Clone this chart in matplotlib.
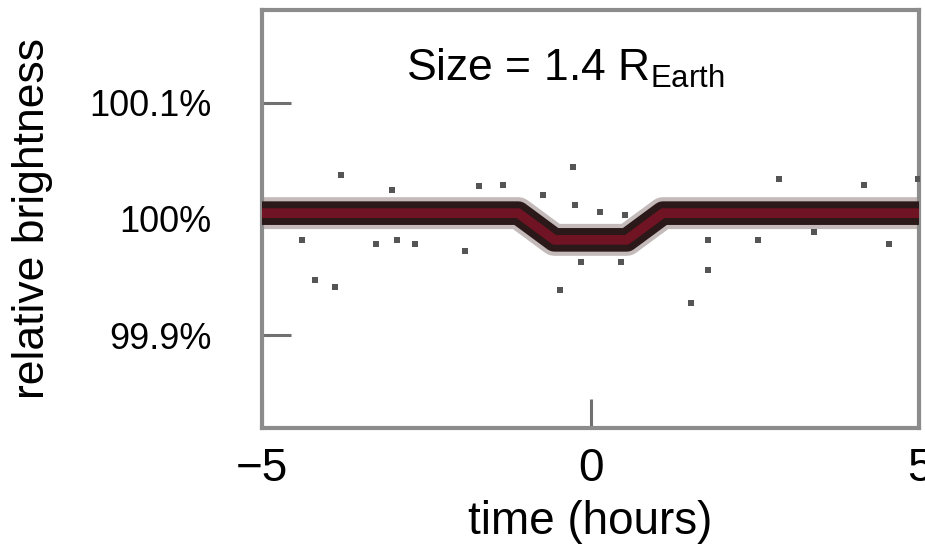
# transit light curve of a 1.4 Earth-radius planet

import matplotlib.pyplot as plt

plt.rcParams['font.family'] = ['Liberation Sans', 'DejaVu Sans']
plt.rcParams['mathtext.fontset'] = 'custom'
plt.rcParams['mathtext.rm'] = 'Liberation Sans'

# transit model (hours, relative brightness %)
model_time = [-5, -1.1, -0.55, 0.55, 1.1, 5]
model_flux = [100.005, 100.005, 99.982, 99.982, 100.005, 100.005]

# scattered measurements that stand out from the dense band
outlier_time = [-4.39, -4.19, -3.89, -3.80, -3.26, -3.02, -2.94, -2.67, -1.91, -1.69,
                -1.33, -0.73, -0.46, -0.27, -0.23, -0.15, 0.15, 0.46, 0.53, 1.52,
                1.78, 1.78, 2.55, 2.87, 3.40, 4.16, 4.53, 4.98]
outlier_flux = [99.982, 99.947, 99.941, 100.038, 99.978, 100.025, 99.982, 99.978, 99.972, 100.028,
                100.029, 100.021, 99.939, 100.045, 100.012, 99.963, 100.006, 99.963, 100.003, 99.928,
                99.956, 99.982, 99.982, 100.034, 99.989, 100.029, 99.978, 100.034]

yticks = [99.9, 100.0, 100.1]
ytick_labels = ['99.9%', '100%', '100.1%']
xticks = [-5, 0, 5]

fig = plt.figure(figsize=(9.25, 5.55), dpi=100)
ax = fig.add_axes([0.283, 0.229, 0.711, 0.753])

# dense band of measurements + model line
ax.plot(model_time, model_flux, color='#c4baba', lw=23, solid_joinstyle='round', zorder=2)
ax.plot(model_time, model_flux, color='#2b1818', lw=17, solid_joinstyle='round', zorder=3)
ax.plot(model_time, model_flux, color='#701424', lw=7, solid_joinstyle='round', zorder=4)
ax.scatter(outlier_time, outlier_flux, s=18, marker='s', color='#555555', lw=0, zorder=5)

ax.set_xlim(-5, 5)
ax.set_ylim(99.82, 100.18)
ax.set_xticks(xticks)
ax.set_xticklabels(['\u22125', '0', '5'])
ax.set_yticks(yticks)
ax.set_yticklabels(ytick_labels)

for s in ax.spines.values():
    s.set_color('#8c8c8c')
    s.set_linewidth(3)
ax.tick_params(axis='both', direction='in', length=21, width=2.2, color='#707070')
ax.tick_params(axis='y', labelsize=26, pad=36)
ax.tick_params(axis='x', labelsize=33, pad=14)

ax.text(0.22, 0.83, r'Size = 1.4 R$_{\mathrm{Earth}}$', transform=ax.transAxes, fontsize=32)
ax.set_xlabel('time (hours)', fontsize=33, labelpad=6)
ax.set_ylabel('relative brightness', fontsize=32)
ax.yaxis.set_label_coords(-0.318, 0.5)

plt.savefig('out.png', dpi=100)
